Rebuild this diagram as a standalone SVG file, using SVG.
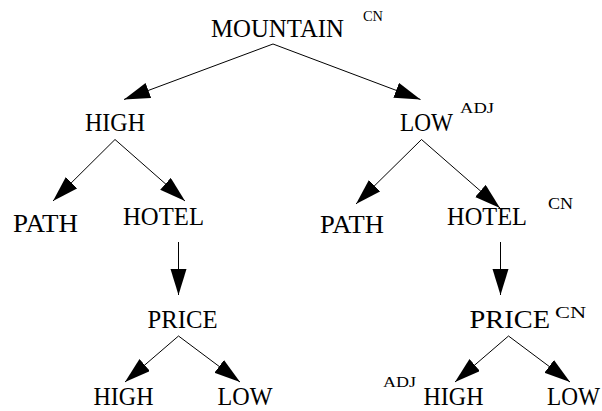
<svg xmlns="http://www.w3.org/2000/svg" width="602" height="411" viewBox="0 0 602 411">
<style>
.t{font-family:"Liberation Serif","Times New Roman",serif;font-size:24.5px;fill:#000}
.s{font-family:"Liberation Serif","Times New Roman",serif;font-size:14px;fill:#000}
.s2{font-family:"Liberation Serif","Times New Roman",serif;font-size:16px;fill:#000}
.e{stroke:#000;stroke-width:1;fill:none;marker-end:url(#ah)}
</style>
<defs>
<marker id="ah" markerUnits="userSpaceOnUse" markerWidth="27" markerHeight="17" refX="26" refY="8" orient="auto">
<path d="M0,0 L26,8 L0,16 Z" fill="#000"/>
</marker>
</defs>
<rect width="602" height="411" fill="#fff"/>
<g id="connectors">
<line class="e" x1="273" y1="44" x2="124" y2="99.5"/>
<line class="e" x1="273" y1="44" x2="420.5" y2="99.5"/>
<line class="e" x1="115" y1="139.5" x2="53" y2="201"/>
<line class="e" x1="115" y1="139.5" x2="185" y2="201"/>
<line class="e" x1="421.5" y1="139.5" x2="356" y2="204"/>
<line class="e" x1="421.5" y1="139.5" x2="500" y2="208"/>
<line class="e" x1="178.5" y1="242" x2="178.5" y2="295"/>
<line class="e" x1="500.5" y1="242" x2="500.5" y2="295"/>
<line class="e" x1="178.5" y1="336" x2="125" y2="382"/>
<line class="e" x1="178.5" y1="336" x2="240" y2="382"/>
<line class="e" x1="508.5" y1="336" x2="455" y2="382"/>
<line class="e" x1="508.5" y1="336" x2="570" y2="382"/>
</g>
<g id="mountain">
<text class="t" x="211" y="37" textLength="133" lengthAdjust="spacingAndGlyphs">MOUNTAIN</text>
<text class="s" x="363" y="20.5" textLength="20" lengthAdjust="spacingAndGlyphs">CN</text>
</g>
<g id="high1"><text class="t" x="85" y="131" textLength="60" lengthAdjust="spacingAndGlyphs">HIGH</text></g>
<g id="low1">
<text class="t" x="400" y="130.5" textLength="53" lengthAdjust="spacingAndGlyphs">LOW</text>
<text class="s" x="460" y="113" textLength="34" lengthAdjust="spacingAndGlyphs">ADJ</text>
</g>
<g id="path1"><text class="t" x="13" y="232" textLength="65" lengthAdjust="spacingAndGlyphs">PATH</text></g>
<g id="hotel1"><text class="t" x="123" y="225" textLength="81" lengthAdjust="spacingAndGlyphs">HOTEL</text></g>
<g id="path2"><text class="t" x="320" y="232.5" textLength="64" lengthAdjust="spacingAndGlyphs">PATH</text></g>
<g id="hotel2">
<text class="t" x="447" y="225" textLength="80" lengthAdjust="spacingAndGlyphs">HOTEL</text>
<text class="s2" x="548" y="209" textLength="25" lengthAdjust="spacingAndGlyphs">CN</text>
</g>
<g id="price1"><text class="t" x="147.5" y="327.5" textLength="70" lengthAdjust="spacingAndGlyphs">PRICE</text></g>
<g id="price2">
<text class="t" x="469.5" y="327.5" textLength="80.5" lengthAdjust="spacingAndGlyphs">PRICE</text>
<text class="s2" x="555" y="318" textLength="31" lengthAdjust="spacingAndGlyphs">CN</text>
</g>
<g id="high2"><text class="t" x="93.5" y="405" textLength="60" lengthAdjust="spacingAndGlyphs">HIGH</text></g>
<g id="low2"><text class="t" x="217.5" y="405" textLength="55" lengthAdjust="spacingAndGlyphs">LOW</text></g>
<g id="high3">
<text class="s" x="383" y="387" textLength="33" lengthAdjust="spacingAndGlyphs">ADJ</text>
<text class="t" x="423.5" y="405" textLength="60" lengthAdjust="spacingAndGlyphs">HIGH</text>
</g>
<g id="low3"><text class="t" x="547" y="405" textLength="53" lengthAdjust="spacingAndGlyphs">LOW</text></g>
</svg>
